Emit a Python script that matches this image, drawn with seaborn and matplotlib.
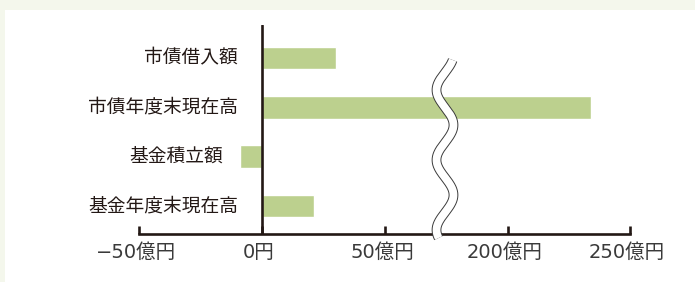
import numpy as np
import pandas as pd
import matplotlib
matplotlib.use('Agg')
import matplotlib.pyplot as plt
import matplotlib.transforms as mtransforms
from matplotlib.patches import Rectangle
import seaborn as sns

# data (億円)
categories = ['市債借入額', '市債年度末現在高', '基金積立額', '基金年度末現在高']
values = [30, 234, -9, 21]
left_ticks = [-50, 0, 50]
left_ticklabels = ['−50億円', '0円', '50億円']
right_ticks = [200, 250]
right_ticklabels = ['200億円', '250億円']

df = pd.DataFrame({'category': categories, 'value': values})

sns.set_theme(style='white')
plt.rcParams['font.family'] = ['Noto Sans CJK JP', 'DejaVu Sans']

bar_color = '#bcd08e'
ink = '#231815'
label_color = '#3a3a3a'

fig = plt.figure(figsize=(6.95, 2.82), dpi=100)
fig.patch.set_facecolor('#f4f7ec')
fig.patches.append(Rectangle((5 / 695, 0), 690 / 695, 272 / 282, transform=fig.transFigure,
                             facecolor='white', edgecolor='none', zorder=-1))

bottom = 48 / 282
height = 209 / 282
ax_l = fig.add_axes([139 / 695, bottom, 297 / 695, height])
ax_r = fig.add_axes([436 / 695, bottom, 194 / 695, height])

for ax in (ax_l, ax_r):
    sns.barplot(data=df, x='value', y='category', orient='h', color=bar_color,
                width=0.456, saturation=1, ax=ax, zorder=2)
    ax.set_facecolor('none')
    ax.set_ylim(3.57, -0.67)
    ax.set_xlabel('')
    ax.set_ylabel('')
    ax.set_yticks([])
    for s in ('top', 'right', 'left'):
        ax.spines[s].set_visible(False)
    ax.spines['bottom'].set_color(ink)
    ax.spines['bottom'].set_linewidth(1.9)
    ax.spines['bottom'].set_capstyle('projecting')
    ax.tick_params(axis='x', direction='in', length=5.8, width=1.9, color=ink,
                   pad=6.5, labelsize=14, labelcolor=label_color, bottom=True)

ax_l.set_xlim(-50, 70.7)
ax_l.set_xticks(left_ticks)
ax_l.set_xticklabels(left_ticklabels)
ax_r.set_xlim(170.5, 250)
ax_r.set_xticks(right_ticks)
ax_r.set_xticklabels(right_ticklabels)

# wider digits for the tick labels, shifted slightly left
shift = mtransforms.ScaledTranslation(-3 / 100, 0, fig.dpi_scale_trans)
for ax in (ax_l, ax_r):
    for lab in ax.get_xticklabels():
        lab.set_family(['DejaVu Sans', 'Noto Sans CJK JP'])
        lab.set_transform(lab.get_transform() + shift)

# zero line
ax_l.axvline(0, color=ink, lw=1.9, zorder=3)

# category labels
for i, (cat, v) in enumerate(zip(categories, values)):
    off = -17.3 if v >= 0 else -12.2
    ax_l.annotate(cat, xy=(min(v, 0), i), xytext=(off, 0), textcoords='offset points',
                  ha='right', va='center', fontsize=13.5, color=ink)

# wavy break mark (decoration, in pixel coords)
ov = fig.add_axes([0, 0, 1, 1], zorder=5)
ov.set_xlim(0, 695)
ov.set_ylim(282, 0)
ov.axis('off')
ov.patch.set_alpha(0)
yy = np.linspace(60, 238, 300)
xx = 445 + 8.5 * np.cos(2 * np.pi * (yy - 125) / 70)
ov.plot(xx, yy, color='#3a3a3a', lw=7.0, solid_capstyle='butt')
ov.plot(xx, yy, color='white', lw=5.6, solid_capstyle='butt')

fig.savefig('out.png', dpi=100, facecolor=fig.get_facecolor())
